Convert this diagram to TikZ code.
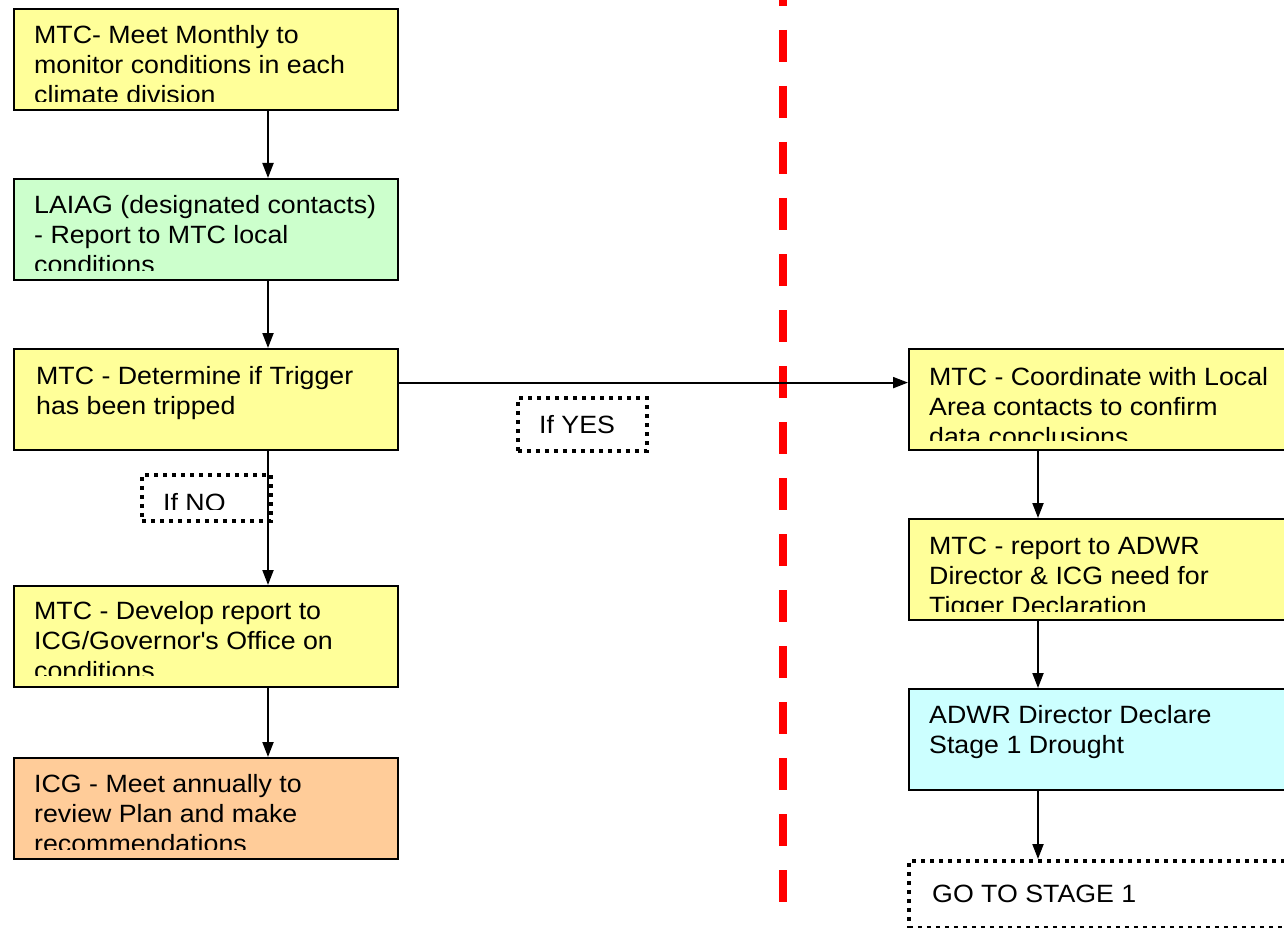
\documentclass[tikz,border=0pt]{standalone}
\usepackage{fontspec}
\setmainfont[FakeStretch=1.07]{Liberation Sans}
\usetikzlibrary{arrows.meta}
\definecolor{yel}{HTML}{FFFF99}
\definecolor{grn}{HTML}{CCFFCC}
\definecolor{cyn}{HTML}{CCFFFF}
\definecolor{org}{HTML}{FFCC99}
\definecolor{redline}{HTML}{FF0000}
\tikzset{
  box/.style={draw=black, line width=2.2pt, minimum width=384pt, minimum height=101pt, anchor=north west, inner sep=0pt},
  rbox/.style={box, minimum width=420pt},
  txt/.style={anchor=north west, inner sep=0pt, align=left, font=\fontsize{25}{30}\selectfont},
  dotbox/.style={draw=black, fill=white, line width=3.8pt, dash pattern=on 4pt off 5pt, anchor=north west, inner sep=0pt},
  arr/.style={draw=black, line width=2pt, -{Triangle[length=15pt,width=11pt]}},
  divider/.style={draw=redline, line width=8pt, dash pattern=on 32pt off 24pt}
}
\begin{document}
\begin{tikzpicture}[x=1pt,y=-1pt]
\useasboundingbox (0,0) rectangle (1284,928);
\clip (0,0) rectangle (1284,928);

% red divider
\coordinate (dtop) at (783,-26);
\coordinate (dbot) at (783,902);
\draw[divider] (dtop) -- (dbot);

% left column boxes
\node[box, fill=yel] (b1) at (13,8) {};
\node[box, fill=grn] (b2) at (13,178) {};
\node[box, fill=yel] (b3) at (13,348) {};
\node[box, fill=yel] (b4) at (13,585) {};
\node[box, fill=org] (b5) at (13,757) {};

% right column boxes
\node[rbox, fill=yel] (r1) at (908,348) {};
\node[rbox, fill=yel] (r2) at (908,518) {};
\node[rbox, fill=cyn] (r3) at (908,688) {};
\node[dotbox, minimum width=420pt, minimum height=67pt] (go) at (907,859) {};

% label boxes
\node[dotbox, minimum width=129pt, minimum height=53pt] (yes) at (516,396) {};
\node[dotbox, minimum width=129pt, minimum height=46pt] (no) at (140,473) {};

% texts (clipped at bottom like the original)
\begin{scope}
\clip (b1.north west) rectangle ([yshift=10pt]b1.south east);
\node[txt] (t1) at (34,22) {\strut MTC- Meet Monthly to\\monitor conditions in each\\climate division};
\end{scope}
\begin{scope}
\clip (b2.north west) rectangle ([yshift=11pt]b2.south east);
\node[txt] (t2) at (34,192) {\strut LAIAG (designated contacts)\\- Report to MTC local\\conditions};
\end{scope}
\begin{scope}
\clip (b3.north west) rectangle ([yshift=10pt]b3.south east);
\node[txt] (t3) at (36,363) {\strut MTC - Determine if Trigger\\has been tripped};
\end{scope}
\begin{scope}
\clip (b4.north west) rectangle ([yshift=13pt]b4.south east);
\node[txt] (t4) at (34,598) {\strut MTC - Develop report to\\ICG/Governor\textquotesingle s Office on\\conditions};
\end{scope}
\begin{scope}
\clip (b5.north west) rectangle ([yshift=11pt]b5.south east);
\node[txt] (t5) at (34,771) {\strut ICG - Meet annually to\\review Plan and make\\recommendations};
\end{scope}
\begin{scope}
\clip (r1.north west) rectangle ([yshift=11pt]r1.south east);
\node[txt] (u1) at (929,364) {\strut MTC - Coordinate with Local\\Area contacts to confirm\\data conclusions};
\end{scope}
\begin{scope}
\clip (r2.north west) rectangle ([yshift=10pt]r2.south east);
\node[txt] (u2) at (929,533) {\strut MTC - report to ADWR\\Director \& ICG need for\\Tigger Declaration};
\end{scope}
\node[txt] (u3) at (929,702) {\strut ADWR Director Declare\\Stage 1 Drought};
\node[txt] (ugo) at (932,881) {\strut GO TO STAGE 1};
\node[txt] (tyes) at (539,412) {\strut If YES};
\begin{scope}
\clip (no.north west) rectangle ([yshift=13pt]no.south east);
\node[txt] (tno) at (163,490) {\strut If NO};
\end{scope}

% connectors
\draw[arr] ([xshift=255pt]b1.south west) -- ([xshift=255pt]b2.north west);
\draw[arr] ([xshift=255pt]b2.south west) -- ([xshift=255pt]b3.north west);
\draw[arr] ([xshift=255pt]b3.south west) -- ([xshift=255pt]b4.north west);
\draw[arr] ([xshift=255pt]b4.south west) -- ([xshift=255pt]b5.north west);
\draw[arr] ([yshift=17pt]b3.east) -- ([yshift=17pt]r1.west);
\draw[arr] ([xshift=130pt]r1.south west) -- ([xshift=130pt]r2.north west);
\draw[arr] ([xshift=130pt]r2.south west) -- ([xshift=130pt]r3.north west);
\draw[arr] ([xshift=130pt]r3.south west) -- ([xshift=131pt]go.north west);
\end{tikzpicture}
\end{document}
